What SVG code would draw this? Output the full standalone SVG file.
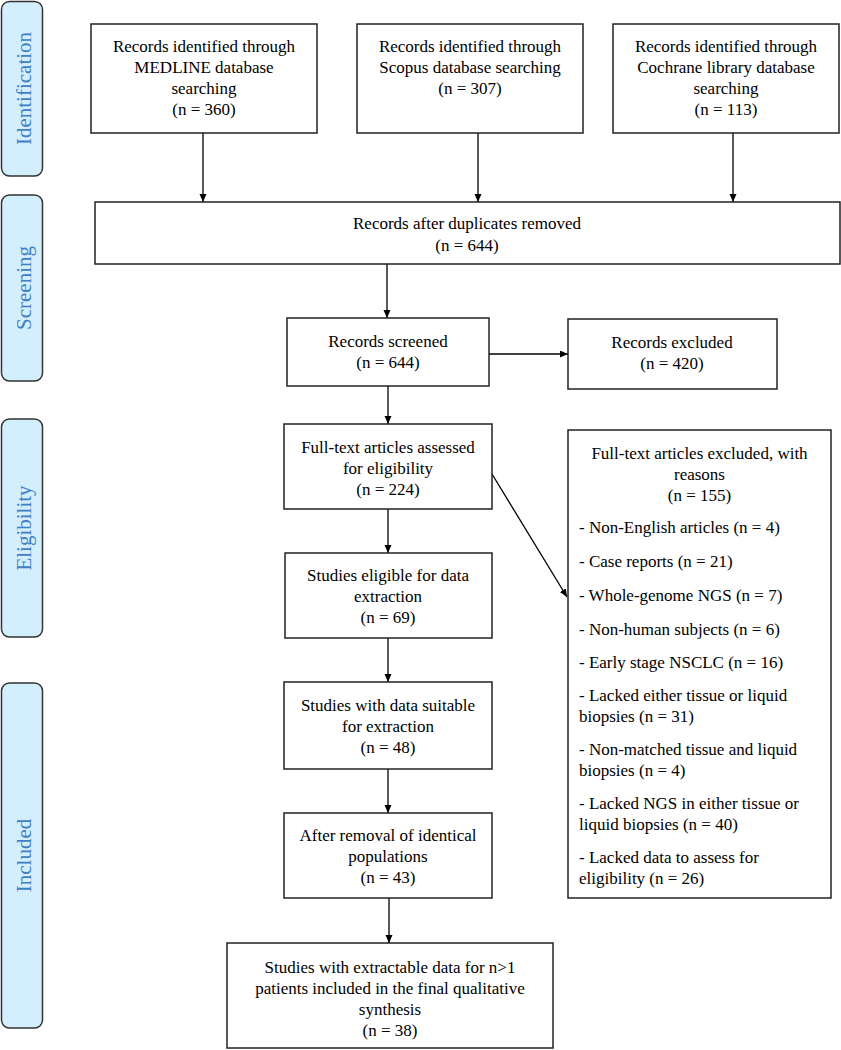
<svg xmlns="http://www.w3.org/2000/svg" width="841" height="1050" viewBox="0 0 841 1050">
<style>
.bg{fill:#ffffff}
.box{fill:#ffffff;stroke:#222222;stroke-width:1.5}
.side{fill:#d3eefd;stroke:#333333;stroke-width:1.5}
.t{font-family:"Liberation Serif","Times New Roman",serif;font-size:17px;fill:#000000;text-anchor:middle}
.l{font-family:"Liberation Serif","Times New Roman",serif;font-size:17px;fill:#000000}
.s{font-family:"Liberation Serif","Times New Roman",serif;font-size:21px;fill:#3f7fc4;text-anchor:middle}
.c{stroke:#000000;stroke-width:1.3;fill:none;marker-end:url(#ah)}
</style>
<defs>
<marker id="ah" markerUnits="userSpaceOnUse" markerWidth="9" markerHeight="8" refX="8" refY="3.5" orient="auto">
<path d="M0,0 L8,3.5 L0,7 z" fill="#000000"/>
</marker>
</defs>
<rect class="bg" x="0" y="0" width="841" height="1050"/>

<g id="stage-identification"><rect class="side" x="1.5" y="1.5" width="41" height="174.5" rx="8"/><text class="s" transform="translate(31,88.5) rotate(-90)">Identification</text></g>
<g id="stage-screening"><rect class="side" x="1.5" y="195" width="41" height="186" rx="8"/><text class="s" transform="translate(31,288) rotate(-90)">Screening</text></g>
<g id="stage-eligibility"><rect class="side" x="1.5" y="419" width="41" height="218" rx="8"/><text class="s" transform="translate(31,528) rotate(-90)">Eligibility</text></g>
<g id="stage-included"><rect class="side" x="1.5" y="683" width="41" height="345" rx="8"/><text class="s" transform="translate(31,855.5) rotate(-90)">Included</text></g>

<g id="connectors">
<line class="c" x1="203" y1="133" x2="203" y2="202"/>
<line class="c" x1="478" y1="133" x2="478" y2="202"/>
<line class="c" x1="733" y1="133" x2="733" y2="202"/>
<line class="c" x1="387" y1="264" x2="387" y2="318"/>
<line class="c" x1="489" y1="354" x2="568" y2="354"/>
<line class="c" x1="388" y1="386" x2="388" y2="424"/>
<line class="c" x1="388" y1="509" x2="388" y2="553"/>
<line class="c" x1="388" y1="638" x2="388" y2="682"/>
<line class="c" x1="388" y1="769" x2="388" y2="813"/>
<line class="c" x1="389" y1="898" x2="389" y2="943"/>
<line class="c" x1="492" y1="474" x2="567" y2="597"/>
</g>

<g id="medline"><rect class="box" x="91" y="24" width="226" height="109"/>
<text class="t" x="204" y="52">Records identified through</text>
<text class="t" x="204" y="73">MEDLINE database</text>
<text class="t" x="204" y="94">searching</text>
<text class="t" x="204" y="115">(n = 360)</text></g>

<g id="scopus"><rect class="box" x="357" y="24" width="226" height="109"/>
<text class="t" x="470" y="52">Records identified through</text>
<text class="t" x="470" y="73">Scopus database searching</text>
<text class="t" x="470" y="94">(n = 307)</text></g>

<g id="cochrane"><rect class="box" x="613" y="24" width="226" height="109"/>
<text class="t" x="726" y="52">Records identified through</text>
<text class="t" x="726" y="73">Cochrane library database</text>
<text class="t" x="726" y="94">searching</text>
<text class="t" x="726" y="115">(n = 113)</text></g>

<g id="duplicates"><rect class="box" x="95" y="202" width="745" height="62"/>
<text class="t" x="467" y="229">Records after duplicates removed</text>
<text class="t" x="467" y="251">(n = 644)</text></g>

<g id="screened"><rect class="box" x="287" y="318" width="202" height="68"/>
<text class="t" x="388" y="347">Records screened</text>
<text class="t" x="388" y="368">(n = 644)</text></g>

<g id="excluded"><rect class="box" x="568" y="319" width="209" height="70"/>
<text class="t" x="672" y="348">Records excluded</text>
<text class="t" x="672" y="369">(n = 420)</text></g>

<g id="fulltext"><rect class="box" x="284" y="424" width="208" height="85"/>
<text class="t" x="388" y="453">Full-text articles assessed</text>
<text class="t" x="388" y="474">for eligibility</text>
<text class="t" x="388" y="495">(n = 224)</text></g>

<g id="eligible"><rect class="box" x="285" y="553" width="207" height="85"/>
<text class="t" x="388" y="581">Studies eligible for data</text>
<text class="t" x="388" y="602">extraction</text>
<text class="t" x="388" y="623">(n = 69)</text></g>

<g id="suitable"><rect class="box" x="284" y="682" width="208" height="87"/>
<text class="t" x="388" y="711">Studies with data suitable</text>
<text class="t" x="388" y="732">for extraction</text>
<text class="t" x="388" y="753">(n = 48)</text></g>

<g id="identical"><rect class="box" x="284" y="813" width="208" height="85"/>
<text class="t" x="388" y="841">After removal of identical</text>
<text class="t" x="388" y="862">populations</text>
<text class="t" x="388" y="883">(n = 43)</text></g>

<g id="final"><rect class="box" x="227" y="943" width="326" height="105"/>
<text class="t" x="390" y="973">Studies with extractable data for n&gt;1</text>
<text class="t" x="390" y="994">patients included in the final qualitative</text>
<text class="t" x="390" y="1015">synthesis</text>
<text class="t" x="390" y="1036">(n = 38)</text></g>

<g id="reasons"><rect class="box" x="568" y="430" width="263" height="468"/>
<text class="t" x="699.5" y="459">Full-text articles excluded, with</text>
<text class="t" x="699.5" y="480">reasons</text>
<text class="t" x="699.5" y="501">(n = 155)</text>
<text class="l" x="579" y="533">- Non-English articles (n = 4)</text>
<text class="l" x="579" y="567">- Case reports (n = 21)</text>
<text class="l" x="579" y="601">- Whole-genome NGS (n = 7)</text>
<text class="l" x="579" y="635">- Non-human subjects (n = 6)</text>
<text class="l" x="579" y="668">- Early stage NSCLC (n = 16)</text>
<text class="l" x="579" y="701">- Lacked either tissue or liquid</text>
<text class="l" x="579" y="722">biopsies (n = 31)</text>
<text class="l" x="579" y="755">- Non-matched tissue and liquid</text>
<text class="l" x="579" y="776">biopsies (n = 4)</text>
<text class="l" x="579" y="809">- Lacked NGS in either tissue or</text>
<text class="l" x="579" y="830">liquid biopsies (n = 40)</text>
<text class="l" x="579" y="863">- Lacked data to assess for</text>
<text class="l" x="579" y="884">eligibility (n = 26)</text></g>
</svg>
